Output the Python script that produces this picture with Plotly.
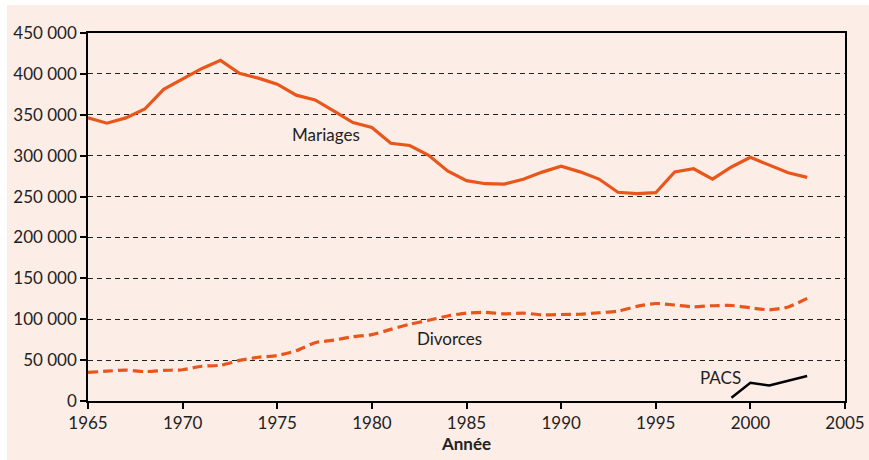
import plotly.graph_objects as go

years = list(range(1965, 2004))
mariages = [346300, 339700, 346200, 357000, 381100, 393700, 406400, 416500, 400700, 394800,
            387400, 374000, 368200, 354600, 340400, 334400, 315100, 312400, 300500, 281400,
            269400, 265700, 265200, 271100, 279900, 287100, 280200, 271400, 255200, 253700,
            254700, 280100, 284000, 271400, 286200, 297900, 288300, 279100, 273500]
divorces = [34900, 36500, 37800, 36000, 37400, 38200, 42500, 43700, 49700, 53500,
            55600, 61500, 71300, 74400, 78600, 81100, 87600, 93900, 98700, 104000,
            107500, 108400, 106500, 107500, 105300, 105800, 106100, 107900, 109900, 115700,
            119200, 117400, 115200, 116500, 116800, 114000, 111500, 115000, 125500]
pacs_years = [1999, 2000, 2001, 2002, 2003]
pacs = [4000, 22300, 19000, 25000, 30500]

y_ticks = [0, 50000, 100000, 150000, 200000, 250000, 300000, 350000, 400000, 450000]
y_labels = ["0", "50 000", "100 000", "150 000", "200 000", "250 000", "300 000",
            "350 000", "400 000", "450 000"]
x_ticks = [1965, 1970, 1975, 1980, 1985, 1990, 1995, 2000, 2005]

ORANGE = "#E9561C"
PEACH = "#FCEDE6"
FONT = "Lato"

fig = go.Figure()
fig.add_trace(go.Scatter(x=years, y=mariages, mode="lines", name="Mariages",
                         line=dict(color=ORANGE, width=3.2)))
fig.add_trace(go.Scatter(x=years, y=divorces, mode="lines", name="Divorces",
                         line=dict(color=ORANGE, width=3.2, dash="10px,5px", shape="spline", smoothing=0.6)))
fig.add_trace(go.Scatter(x=pacs_years, y=pacs, mode="lines", name="PACS",
                         line=dict(color="black", width=2.5)))

fig.add_annotation(x=1977.6, y=326000, text="Mariages", showarrow=False,
                   font=dict(family=FONT, size=17, color="#222"))
fig.add_annotation(x=1984.1, y=77000, text="Divorces", showarrow=False,
                   font=dict(family=FONT, size=17, color="#222"))
fig.add_annotation(x=1998.4, y=28500, text="PACS", showarrow=False,
                   font=dict(family=FONT, size=17, color="#222"))

# page offset (white strip top/left), figure fills the rest of the window
OFF_X, OFF_Y = 7, 5
W, H = 869 - OFF_X, 460 - OFF_Y
L, R, T, B = 88 - OFF_X, 24, 33 - OFF_Y, 59

fig.update_layout(
    width=W, height=H,
    margin=dict(l=L, r=R, t=T, b=B, autoexpand=False),
    paper_bgcolor=PEACH, plot_bgcolor=PEACH,
    showlegend=False,
    font=dict(family=FONT, size=17, color="#222"),
)
fig.update_xaxes(range=[1965, 2005], tickvals=x_ticks, showgrid=False,
                 showline=True, linecolor="black", linewidth=1.5, mirror=True,
                 ticks="outside", ticklen=6, tickcolor="black", tickwidth=1.5,
                 zeroline=False,
                 title=dict(text="<b>Année</b>", font=dict(family=FONT, size=17), standoff=4))
fig.update_yaxes(range=[0, 450000], tickvals=y_ticks, ticktext=y_labels,
                 showgrid=True, gridcolor="#222", gridwidth=1.3, griddash="5px,4px",
                 showline=True, linecolor="black", linewidth=1.5, mirror=True,
                 ticks="outside", ticklen=6, tickcolor="black", tickwidth=1.5,
                 zeroline=False)

fig.write_html("out.html",
               post_script="document.body.style.margin='%dpx 0 0 %dpx';document.body.style.background='white';" % (OFF_Y, OFF_X))
